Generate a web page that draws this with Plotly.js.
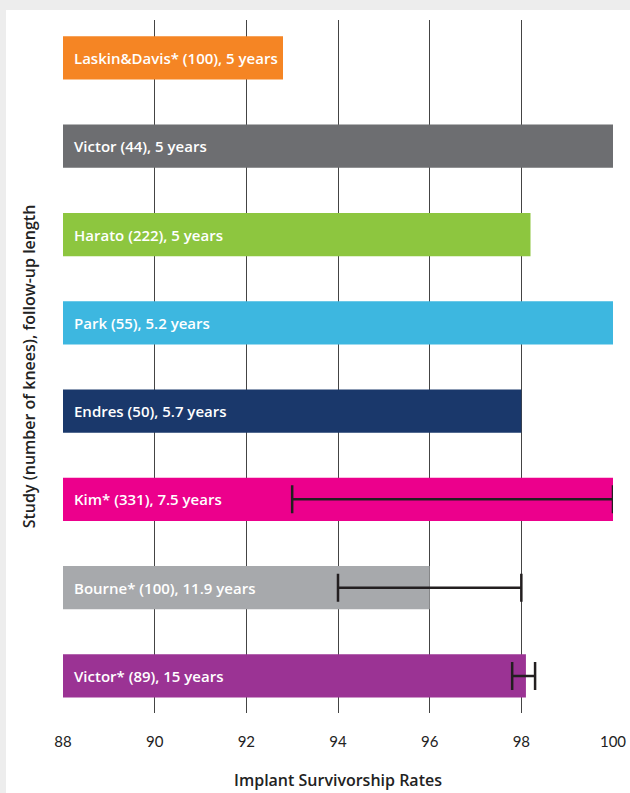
<!DOCTYPE html>
<html>
<head>
<meta charset="utf-8">
<script src="https://cdn.plot.ly/plotly-3.0.1.min.js"></script>
<style>html,body{margin:0;padding:0;background:#ededed;}#chart{width:630px;height:793px;}</style>
</head>
<body>
<div id="chart"></div>
<script>
const studies = [
  "Laskin&Davis* (100), 5 years",
  "Victor (44), 5 years",
  "Harato (222), 5 years",
  "Park (55), 5.2 years",
  "Endres (50), 5.7 years",
  "Kim* (331), 7.5 years",
  "Bourne* (100), 11.9 years",
  "Victor* (89), 15 years"
];
const survival = [92.8, 100, 98.2, 100, 98.0, 100, 96.0, 98.1];
// undefined = no error bar for that study
const errPlus  = [undefined, undefined, undefined, undefined, undefined, 0, 2.0, 0.2];
const errMinus = [undefined, undefined, undefined, undefined, undefined, 7.0, 2.0, 0.3];
const barColors = ["#f58524", "#6d6e71", "#8dc63f", "#3db7e0", "#1a386b", "#ec008c", "#a7a9ac", "#9b3394"];
const xTicks = [88, 90, 92, 94, 96, 98, 100];

const labelFont = "'Open Sans', sans-serif";
const tickFontFam = "Lato, 'Open Sans', sans-serif";

const trace = {
  type: "bar",
  orientation: "h",
  y: studies,
  x: survival.map(v => v - 88),
  base: 88,
  width: 0.49,
  marker: {color: barColors, line: {width: 0}},
  error_x: {
    type: "data",
    symmetric: false,
    array: errPlus.map(v => v === undefined ? NaN : v),
    arrayminus: errMinus.map(v => v === undefined ? NaN : v),
    color: "#231f20",
    thickness: 2.5,
    width: 14
  },
  hoverinfo: "none",
  showlegend: false
};

const annotations = studies.map(s => ({
  x: 88, y: s, xref: "x", yref: "y",
  text: s, showarrow: false,
  xanchor: "left", xshift: 9,
  font: {family: labelFont, size: 15, color: "#ffffff", weight: 600}
}));

const layout = {
  width: 630, height: 793,
  margin: {l: 63, r: 17, t: 20, b: 80},
  paper_bgcolor: "#ededed",
  plot_bgcolor: "rgba(0,0,0,0)",
  shapes: [{
    type: "rect", xref: "paper", yref: "paper", layer: "below",
    x0: -0.1036, x1: 1.2, y0: -0.3, y1: 1.0144,
    fillcolor: "#ffffff", line: {width: 0}
  }],
  xaxis: {
    range: [88, 100],
    tickvals: xTicks,
    ticktext: xTicks.map(String),
    showgrid: true, gridcolor: "#444444", gridwidth: 1,
    zeroline: false, showline: false, ticks: "",
    ticklabelstandoff: 18,
    tickfont: {family: tickFontFam, size: 15, color: "#222222"},
    title: {text: "Implant Survivorship Rates", standoff: 25,
            font: {family: labelFont, size: 16, color: "#222222", weight: 600}}
  },
  yaxis: {
    type: "category",
    categoryorder: "array", categoryarray: studies,
    range: [7.42, -0.43],
    showticklabels: false, showgrid: false, zeroline: false, showline: false, ticks: "",
    title: {text: "Study (number of knees), follow-up length", standoff: 22,
            font: {family: labelFont, size: 16, color: "#222222", weight: 600}}
  },
  annotations: annotations,
  bargap: 0.5
};

Plotly.newPlot("chart", [trace], layout, {displayModeBar: false, staticPlot: true});
</script>
</body>
</html>
